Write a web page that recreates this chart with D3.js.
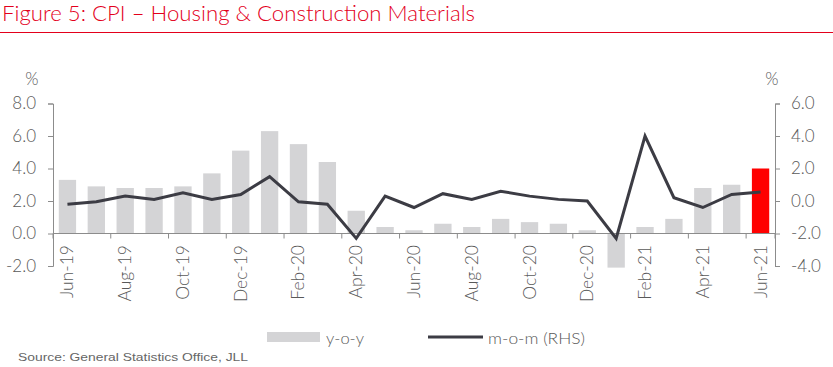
<!DOCTYPE html>
<html>
<head>
<meta charset="utf-8">
<script src="https://cdn.jsdelivr.net/npm/d3@7"></script>
<style>
  html, body { margin: 0; padding: 0; background: #fff; }
  svg { display: block; }
</style>
</head>
<body>
<svg id="chart" width="833" height="367"></svg>
<script>
const months = ["Jun-19","Jul-19","Aug-19","Sep-19","Oct-19","Nov-19","Dec-19","Jan-20","Feb-20","Mar-20","Apr-20","May-20","Jun-20","Jul-20","Aug-20","Sep-20","Oct-20","Nov-20","Dec-20","Jan-21","Feb-21","Mar-21","Apr-21","May-21","Jun-21"];
const yoy = [3.3, 2.9, 2.8, 2.8, 2.9, 3.7, 5.1, 6.3, 5.5, 4.4, 1.4, 0.4, 0.2, 0.6, 0.4, 0.9, 0.7, 0.6, 0.2, -2.1, 0.4, 0.9, 2.8, 3.0, 4.0];
const mom = [-0.2, -0.05, 0.3, 0.1, 0.5, 0.1, 0.4, 1.5, -0.05, -0.2, -2.3, 0.3, -0.4, 0.45, 0.1, 0.6, 0.3, 0.1, 0.0, -2.3, 4.0, 0.2, -0.4, 0.4, 0.55];
const leftTicks = [-2, 0, 2, 4, 6, 8];
const rightTicks = [-4, -2, 0, 2, 4, 6];
const labelEvery = 2;

const title = "Figure 5: CPI – Housing & Construction Materials";
const source = "Source: General Statistics Office, JLL";

const svg = d3.select("#chart");
const FONT = "Lato, 'Open Sans', sans-serif";
const TXT = "#595959";
const AX = "#8c8c8c";
const RED = "#e3001b";
const FS = 17;

const pLeft = 53, pRight = 775, pTop = 103.5, pBottom = 266;

const x = d3.scaleBand().domain(months).range([pLeft, pRight]).paddingInner(0.4).paddingOuter(0.2);
const yL = d3.scaleLinear().domain([-2, 8]).range([pBottom, pTop]);
const yR = d3.scaleLinear().domain([-4, 6]).range([pBottom, pTop]);
const fmt = d => d.toFixed(1);

// Title
svg.append("text").attr("x", 2).attr("y", 21)
  .attr("font-family", FONT).attr("font-weight", 300).attr("font-size", 22)
  .attr("fill", RED).attr("textLength", 473).attr("lengthAdjust", "spacingAndGlyphs")
  .text(title);
svg.append("line").attr("x1", 0).attr("x2", 833).attr("y1", 32.5).attr("y2", 32.5)
  .attr("stroke", RED).attr("stroke-width", 1.2);

// Bars
svg.append("g").selectAll("rect").data(months).join("rect")
  .attr("x", d => x(d))
  .attr("width", x.bandwidth())
  .attr("y", (d, i) => yL(Math.max(0, yoy[i])))
  .attr("height", (d, i) => Math.abs(yL(yoy[i]) - yL(0)))
  .attr("fill", (d, i) => i === months.length - 1 ? "#ff0000" : "#d4d4d6");

// Left axis
const gL = svg.append("g").attr("transform", `translate(${pLeft},0)`)
  .call(d3.axisLeft(yL).tickValues(leftTicks).tickFormat(fmt).tickSize(5).tickPadding(12));
gL.select(".domain").attr("stroke", AX);
gL.selectAll(".tick line").attr("stroke", AX);
gL.selectAll(".tick text").attr("font-family", FONT).attr("font-weight", 300).attr("font-size", FS).attr("fill", TXT);

// Right axis
const gR = svg.append("g").attr("transform", `translate(${pRight},0)`)
  .call(d3.axisRight(yR).tickValues(rightTicks).tickFormat(fmt).tickSize(5).tickPadding(11));
gR.select(".domain").attr("stroke", AX);
gR.selectAll(".tick line").attr("stroke", AX);
gR.selectAll(".tick text").attr("font-family", FONT).attr("font-weight", 300).attr("font-size", FS).attr("fill", TXT);

// Units
svg.append("text").attr("x", 32).attr("y", 85).attr("text-anchor", "middle")
  .attr("font-family", FONT).attr("font-weight", 300).attr("font-size", FS).attr("fill", TXT).text("%");
svg.append("text").attr("x", 772).attr("y", 85).attr("text-anchor", "middle")
  .attr("font-family", FONT).attr("font-weight", 300).attr("font-size", FS).attr("fill", TXT).text("%");

// X axis at zero
const y0 = yL(0);
svg.append("line").attr("x1", pLeft).attr("x2", pRight).attr("y1", y0).attr("y2", y0)
  .attr("stroke", AX).attr("stroke-width", 1);
const half = x.step() * x.paddingInner() / 2;
const tickCats = months.filter((d, i) => i % labelEvery === 0);
svg.append("g").selectAll("line").data(tickCats).join("line")
  .attr("x1", d => x(d) - half).attr("x2", d => x(d) - half)
  .attr("y1", y0).attr("y2", y0 + 5)
  .attr("stroke", AX);
svg.append("line").attr("x1", pRight).attr("x2", pRight).attr("y1", y0).attr("y2", y0 + 5).attr("stroke", AX);
svg.append("g").selectAll("text").data(tickCats).join("text")
  .attr("transform", d => `translate(${x(d) + x.bandwidth() / 2 + 6},245) rotate(-90)`)
  .attr("text-anchor", "end")
  .attr("font-family", FONT).attr("font-weight", 300).attr("font-size", 17.5).attr("fill", TXT)
  .text(d => d);

// Line
const line = d3.line()
  .x((d, i) => x(months[i]) + x.bandwidth() / 2)
  .y(d => yR(d));
svg.append("path").datum(mom).attr("d", line)
  .attr("fill", "none").attr("stroke", "#3c3c44").attr("stroke-width", 3).attr("stroke-linejoin", "miter");

// Legend
svg.append("rect").attr("x", 267).attr("y", 332).attr("width", 53).attr("height", 10).attr("fill", "#d4d4d6");
svg.append("text").attr("x", 326).attr("y", 344)
  .attr("font-family", FONT).attr("font-weight", 300).attr("font-size", 16.5).attr("fill", TXT).text("y-o-y");
svg.append("line").attr("x1", 428).attr("x2", 483).attr("y1", 337).attr("y2", 337)
  .attr("stroke", "#3c3c44").attr("stroke-width", 3);
svg.append("text").attr("x", 488).attr("y", 344)
  .attr("font-family", FONT).attr("font-weight", 300).attr("font-size", 16.5).attr("fill", TXT)
  .attr("textLength", 97).attr("lengthAdjust", "spacingAndGlyphs").text("m-o-m (RHS)");

// Source
svg.append("text").attr("x", 18).attr("y", 361)
  .attr("font-family", "'Liberation Sans', Arial, sans-serif").attr("font-size", 11).attr("fill", "#666666")
  .attr("textLength", 230).attr("lengthAdjust", "spacingAndGlyphs")
  .text(source);
</script>
</body>
</html>
